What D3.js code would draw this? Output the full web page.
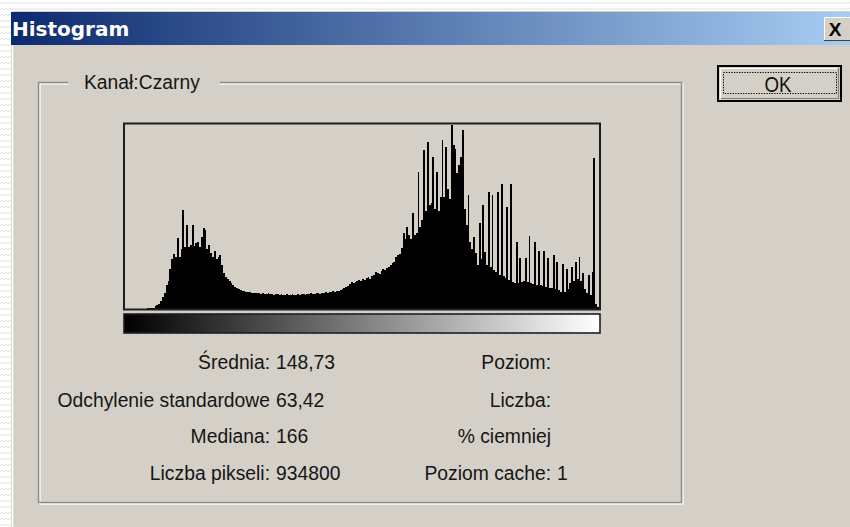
<!DOCTYPE html>
<html><head><meta charset="utf-8">
<script src="https://cdn.jsdelivr.net/npm/d3@7"></script>
<style>html,body{margin:0;padding:0;background:#fff;overflow:hidden}</style>
</head><body>
<svg id="c" width="850" height="527"></svg>
<script>
// ---- data (relative pixel counts per level 0..255) ----
const levelCounts = [
  0,0,0,0,0,0,0,0,0,0,0,0,1,1,1,
  1,3,4,5,8,12,16,24,28,40,50,55,52,
  71,52,60,99,62,84,62,64,84,63,66,67,62,
  72,81,79,60,64,56,52,58,50,52,54,44,36,
  32,30,28,26,24,22,21,20,19,18,18,17,17,17,16,16,16,
  16,16,15,16,15,15,16,15,15,14, 15,15,14,15,14,14,15,14,14,15,
  14,14,15,14,15,15,14,15,15,16, 15,15,16,16,15,16,16,17,16,17,
  17,18,17,18,18,
  19,20,21,22,23,25,27,26,27,28, 29,28,30,29,31,32,30,33,34,37,
  36,35,38,40,39,41,42,44,46,47, 52,54,
  55,61,76,70,82,74,70,96,74,76, 137,82,89,159,98,167,104,106,152,100,
  137,98,112,169,112,162,120,110,190,164, 160,136,144,152,179,100,84,114,67,
  60,72,56,44,86,50,104,57,44,117, 42,114,39,37,117,34,125,33,31,102,
  29,125,27,26,67,26,51,27,28,51, 27,73,26,25,67,24,58,24,23,58,
  22,51,21,21,54,20,47,19,17,45, 17,40,20,26,42,28,47,30,52,28,
  36,20,16,34,14,37,151,5,2
];
const windowTitle = "Histogram";
const channelName = "Kanał:Czarny";
const buttonLabel = "OK";
const statLabels = ["Średnia:", "Odchylenie standardowe", "Mediana:", "Liczba pikseli:"];
const statValues = ["148,73", "63,42", "166", "934800"];
const infoLabels = ["Poziom:", "Liczba:", "% ciemniej", "Poziom cache:"];
const infoValues = ["", "", "", "1"];

// ---- drawing ----
const W = 850, H = 527;
const FACE = "#d4d0c8";
const FONT = "'Liberation Sans', Arial, sans-serif";
const svg = d3.select("#c");
const defs = svg.append("defs");

const pat = defs.append("pattern").attr("id", "zz").attr("width", 8).attr("height", 6)
  .attr("patternUnits", "userSpaceOnUse");
pat.append("path").attr("d", "M0,4 L2,2 L4,4 L6,2 L8,4").attr("fill", "none")
  .attr("stroke", "#d9d9d9").attr("stroke-width", 0.8);

const tg = defs.append("linearGradient").attr("id", "titleGrad");
tg.append("stop").attr("offset", "0%").attr("stop-color", "#0c2a6e");
tg.append("stop").attr("offset", "100%").attr("stop-color", "#a8ccf2");

const bg = defs.append("linearGradient").attr("id", "barGrad");
bg.append("stop").attr("offset", "0%").attr("stop-color", "#000");
bg.append("stop").attr("offset", "100%").attr("stop-color", "#fff");

svg.append("rect").attr("width", W).attr("height", H).attr("fill", "#fff");
svg.append("rect").attr("width", W).attr("height", H).attr("fill", "url(#zz)");

// dialog body
svg.append("rect").attr("x", 11).attr("y", 11).attr("width", W - 11).attr("height", H - 11).attr("fill", FACE);
svg.append("line").attr("x1", 12.5).attr("x2", 12.5).attr("y1", 11).attr("y2", H).attr("stroke", "#fff").attr("stroke-width", 1.5);

// title bar
svg.append("rect").attr("x", 11).attr("y", 12).attr("width", W - 11).attr("height", 33).attr("fill", "url(#titleGrad)");
svg.append("text").attr("x", 12).attr("y", 36).attr("fill", "#fff")
  .attr("font-family", "'DejaVu Sans', Verdana, sans-serif").attr("font-weight", "bold")
  .attr("font-size", 20).text(windowTitle);

// close button
svg.append("rect").attr("x", 824).attr("y", 17).attr("width", 30).attr("height", 24).attr("fill", FACE);
svg.append("path").attr("d", "M824.5,41 V17.5 H855").attr("fill", "none").attr("stroke", "#fff");
svg.append("path").attr("d", "M824,40.5 H855").attr("stroke", "#404040");
svg.append("text").attr("x", 835).attr("y", 36).attr("text-anchor", "middle")
  .attr("font-family", FONT).attr("font-weight", "bold").attr("font-size", 19).attr("fill", "#000").text("X");

function label(x, y, str, anchor) {
  svg.append("text")
    .attr("transform", `translate(${x},${y}) scale(0.92,1)`)
    .attr("text-anchor", anchor)
    .attr("font-family", FONT).attr("font-size", 21).attr("fill", "#151515")
    .text(str);
}

// group box (etched)
const gb = {x: 38.5, y: 82.5, w: 643, h: 420};
svg.append("rect").attr("x", gb.x + 1.5).attr("y", gb.y + 1.5).attr("width", gb.w).attr("height", gb.h)
  .attr("fill", "none").attr("stroke", "#fff").attr("stroke-width", 1.2);
svg.append("rect").attr("x", gb.x).attr("y", gb.y).attr("width", gb.w).attr("height", gb.h)
  .attr("fill", "none").attr("stroke", "#8a8a8a").attr("stroke-width", 1.4);
svg.append("rect").attr("x", 68).attr("y", 74).attr("width", 152).attr("height", 16).attr("fill", FACE);
label(84, 89, channelName, "start");

// OK button
svg.append("rect").attr("x", 718).attr("y", 66).attr("width", 123).attr("height", 35)
  .attr("fill", FACE).attr("stroke", "#000").attr("stroke-width", 2);
svg.append("path").attr("d", "M720.5,99 V68.5 H839").attr("fill", "none").attr("stroke", "#fff").attr("stroke-width", 1.2);
svg.append("path").attr("d", "M721,98.5 H838.5 V68").attr("fill", "none").attr("stroke", "#808080").attr("stroke-width", 1.2);
svg.append("rect").attr("x", 723.5).attr("y", 72.5).attr("width", 113).attr("height", 21)
  .attr("fill", "none").attr("stroke", "#000").attr("stroke-dasharray", "1.3,1.3");
svg.append("text").attr("transform", "translate(778,92) scale(0.85,1)").attr("text-anchor", "middle")
  .attr("font-family", FONT).attr("font-size", 22).attr("fill", "#111").text(buttonLabel);

// histogram
const x = d3.scaleLinear().domain([0, levelCounts.length]).range([125, 599]);
const y = d3.scaleLinear().domain([0, 185]).range([308.5, 124.5]).clamp(true);
svg.append("g").attr("shape-rendering", "crispEdges")
  .selectAll("rect").data(levelCounts).join("rect")
  .attr("x", (d, i) => x(i))
  .attr("width", (d, i) => x(i + 1) - x(i))
  .attr("y", d => y(d))
  .attr("height", d => y(0) - y(d))
  .attr("fill", "#000");
svg.append("rect").attr("x", 124).attr("y", 123.5).attr("width", 476).attr("height", 186)
  .attr("fill", "none").attr("stroke", "#1e1e1e").attr("stroke-width", 2);

// gradient bar
svg.append("rect").attr("x", x.range()[0] - 1).attr("y", 314).attr("width", x.range()[1] - x.range()[0] + 2).attr("height", 19)
  .attr("fill", "url(#barGrad)").attr("stroke", "#1e1e1e").attr("stroke-width", 1.6);

// statistics
const rowY = [369, 407, 443, 480];
statLabels.forEach((s, i) => {
  label(270, rowY[i], s, "end");
  label(276, rowY[i], statValues[i], "start");
});
infoLabels.forEach((s, i) => {
  label(551, rowY[i], s, "end");
  if (infoValues[i]) label(557, rowY[i], infoValues[i], "start");
});
</script>
</body></html>
